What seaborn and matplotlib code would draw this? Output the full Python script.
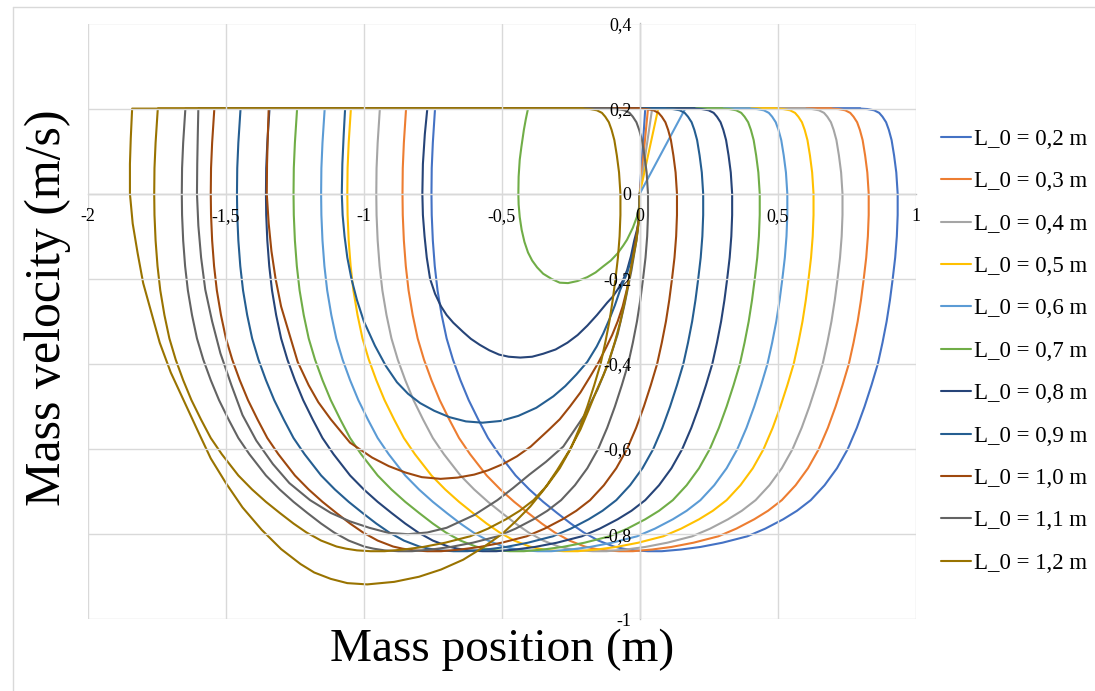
import matplotlib
matplotlib.use("Agg")
import matplotlib.pyplot as plt
import seaborn as sns
import pandas as pd
from matplotlib.ticker import FuncFormatter
from matplotlib.lines import Line2D

# ---------------- data ----------------
labels = ["L_0 = 0,2 m", "L_0 = 0,3 m", "L_0 = 0,4 m", "L_0 = 0,5 m",
          "L_0 = 0,6 m", "L_0 = 0,7 m", "L_0 = 0,8 m", "L_0 = 0,9 m",
          "L_0 = 1,0 m", "L_0 = 1,1 m", "L_0 = 1,2 m"]
colors = ["#4472C4", "#ED7D31", "#A5A5A5", "#FFC000", "#5B9BD5", "#70AD47",
          "#264478", "#255E91", "#9E480E", "#636363", "#997300"]

# initial rise from the origin (L_0 < 0.7 m)
start_y = [0.0, 0.2]
start_x_02 = [0.0, 0.020]
start_x_03 = [0.0, 0.030]
start_x_04 = [0.0, 0.045]
start_x_05 = [0.0, 0.067]
start_x_06 = [0.0, 0.165]

# initial loops from the origin (L_0 >= 0.7 m)
loop_x_07 = [0.000, -0.002, -0.010, -0.025, -0.046, -0.060, -0.080, -0.105, -0.133, -0.160,
             -0.190, -0.225, -0.260, -0.290, -0.320, -0.350, -0.372, -0.390, -0.405, -0.418,
             -0.428, -0.435, -0.439, -0.440, -0.439, -0.435, -0.429, -0.420, -0.413, -0.405]
loop_y_07 = [0.000, -0.030, -0.054, -0.080, -0.108, -0.122, -0.140, -0.157, -0.171, -0.185,
             -0.196, -0.205, -0.210, -0.209, -0.200, -0.188, -0.173, -0.157, -0.138, -0.113,
             -0.085, -0.055, -0.025, 0.000, 0.040, 0.080, 0.110, 0.150, 0.175, 0.200]
loop_x_08 = [0.000, 0.000, -0.008, -0.020, -0.032, -0.046, -0.062, -0.080, -0.098, -0.118,
             -0.155, -0.190, -0.225, -0.262, -0.305, -0.350, -0.390, -0.433, -0.475, -0.510,
             -0.545, -0.580, -0.612, -0.640, -0.676, -0.700, -0.720, -0.742, -0.760, -0.772,
             -0.780, -0.786, -0.788, -0.786, -0.779, -0.770]
loop_y_08 = [0.000, -0.045, -0.080, -0.110, -0.147, -0.180, -0.205, -0.225, -0.242, -0.256,
             -0.285, -0.310, -0.332, -0.350, -0.366, -0.376, -0.383, -0.385, -0.383, -0.378,
             -0.368, -0.355, -0.341, -0.325, -0.303, -0.285, -0.265, -0.235, -0.200, -0.150,
             -0.100, -0.050, 0.000, 0.070, 0.140, 0.200]
loop_x_09 = [0.000, 0.000, -0.010, -0.025, -0.045, -0.071, -0.090, -0.110, -0.132, -0.156,
             -0.190, -0.230, -0.270, -0.313, -0.375, -0.440, -0.505, -0.570, -0.630, -0.690,
             -0.745, -0.796, -0.840, -0.880, -0.920, -0.960, -1.000, -1.025, -1.045, -1.060,
             -1.070, -1.077, -1.080, -1.078, -1.073, -1.068]
loop_y_09 = [0.000, -0.045, -0.095, -0.140, -0.185, -0.226, -0.262, -0.295, -0.328, -0.359,
             -0.395, -0.425, -0.452, -0.476, -0.503, -0.522, -0.534, -0.538, -0.535, -0.525,
             -0.510, -0.492, -0.470, -0.443, -0.405, -0.357, -0.300, -0.250, -0.200, -0.150,
             -0.100, -0.050, 0.000, 0.070, 0.140, 0.200]
loop_x_10 = [0.000, 0.000, -0.010, -0.020, -0.033, -0.047, -0.062, -0.080, -0.100, -0.120,
             -0.150, -0.180, -0.215, -0.253, -0.290, -0.330, -0.395, -0.445, -0.495, -0.550,
             -0.600, -0.660, -0.722, -0.790, -0.850, -0.910, -0.970, -1.050, -1.120, -1.165,
             -1.200, -1.240, -1.270, -1.300, -1.320, -1.335, -1.345, -1.352, -1.351, -1.348,
             -1.345]
loop_y_10 = [0.000, -0.045, -0.090, -0.130, -0.180, -0.226, -0.265, -0.300, -0.332, -0.359,
             -0.397, -0.430, -0.467, -0.500, -0.530, -0.555, -0.594, -0.617, -0.635, -0.650,
             -0.660, -0.667, -0.670, -0.666, -0.655, -0.640, -0.620, -0.585, -0.530, -0.490,
             -0.450, -0.395, -0.330, -0.265, -0.200, -0.135, -0.070, 0.000, 0.070, 0.140,
             0.200]
loop_x_11 = [0.000, 0.000, -0.012, -0.030, -0.055, -0.080, -0.115, -0.153, -0.200, -0.277,
             -0.340, -0.400, -0.460, -0.516, -0.600, -0.700, -0.770, -0.840, -0.910, -0.980,
             -1.050, -1.120, -1.195, -1.270, -1.330, -1.390, -1.440, -1.480, -1.520, -1.550,
             -1.575, -1.590, -1.600, -1.605, -1.604, -1.602, -1.600]
loop_y_11 = [0.000, -0.045, -0.110, -0.180, -0.260, -0.330, -0.400, -0.460, -0.520, -0.594,
             -0.630, -0.660, -0.692, -0.720, -0.755, -0.785, -0.796, -0.800, -0.797, -0.785,
             -0.770, -0.750, -0.720, -0.680, -0.635, -0.580, -0.520, -0.450, -0.375, -0.300,
             -0.225, -0.150, -0.075, 0.000, 0.070, 0.140, 0.200]
loop_x_12 = [0.000, 0.000, -0.012, -0.030, -0.050, -0.070, -0.090, -0.110, -0.132, -0.155,
             -0.185, -0.215, -0.255, -0.300, -0.347, -0.397, -0.450, -0.500, -0.570, -0.640,
             -0.720, -0.800, -0.890, -0.988, -1.060, -1.120, -1.180, -1.230, -1.300, -1.370,
             -1.440, -1.500, -1.555, -1.600, -1.650, -1.700, -1.740, -1.770, -1.800, -1.820,
             -1.838, -1.848, -1.848, -1.845, -1.840]
loop_y_12 = [0.000, -0.045, -0.110, -0.170, -0.240, -0.300, -0.348, -0.390, -0.427, -0.460,
             -0.508, -0.554, -0.603, -0.650, -0.695, -0.735, -0.770, -0.800, -0.832, -0.860,
             -0.883, -0.900, -0.912, -0.918, -0.915, -0.905, -0.890, -0.870, -0.835, -0.790,
             -0.737, -0.680, -0.622, -0.560, -0.490, -0.420, -0.350, -0.280, -0.210, -0.140,
             -0.070, 0.000, 0.070, 0.130, 0.200]

# main cycle: velocity samples shared by all cycles, positions per L_0
cycle_y = [0.200, 0.199, 0.196, 0.190, 0.181, 0.168, 0.150, 0.126, 0.090, 0.050,
           0.000, -0.050, -0.100, -0.150, -0.200, -0.250, -0.300, -0.350, -0.400, -0.450,
           -0.500, -0.550, -0.600, -0.645, -0.685, -0.720, -0.745, -0.765, -0.787, -0.805,
           -0.820, -0.830, -0.836, -0.840, -0.840, -0.838, -0.834, -0.829, -0.815, -0.796,
           -0.775, -0.750, -0.724, -0.695, -0.662, -0.612, -0.574, -0.531, -0.485, -0.438,
           -0.390, -0.340, -0.285, -0.227, -0.170, -0.110, -0.050, 0.000, 0.060, 0.120,
           0.160, 0.200]
cycle_x_02 = [0.800, 0.825, 0.850, 0.868, 0.880, 0.893, 0.903, 0.913, 0.922, 0.930,
              0.935, 0.935, 0.932, 0.926, 0.917, 0.907, 0.895, 0.880, 0.863, 0.840,
              0.815, 0.787, 0.754, 0.715, 0.670, 0.620, 0.570, 0.520, 0.455, 0.390,
              0.300, 0.220, 0.150, 0.080, 0.030, -0.020, -0.060, -0.094, -0.150, -0.203,
              -0.250, -0.300, -0.350, -0.400, -0.450, -0.510, -0.550, -0.585, -0.620, -0.650,
              -0.677, -0.700, -0.718, -0.733, -0.743, -0.750, -0.754, -0.755, -0.754, -0.750,
              -0.746, -0.742]
cycle_x_03 = [0.695, 0.720, 0.745, 0.763, 0.775, 0.788, 0.798, 0.808, 0.817, 0.825,
              0.830, 0.830, 0.827, 0.821, 0.812, 0.802, 0.790, 0.775, 0.758, 0.735,
              0.710, 0.682, 0.649, 0.610, 0.565, 0.515, 0.465, 0.415, 0.350, 0.285,
              0.195, 0.115, 0.045, -0.025, -0.075, -0.125, -0.165, -0.199, -0.255, -0.308,
              -0.355, -0.405, -0.455, -0.505, -0.555, -0.615, -0.655, -0.690, -0.725, -0.755,
              -0.782, -0.805, -0.823, -0.838, -0.848, -0.855, -0.859, -0.860, -0.859, -0.855,
              -0.851, -0.847]
cycle_x_04 = [0.600, 0.625, 0.650, 0.668, 0.680, 0.693, 0.703, 0.713, 0.722, 0.730,
              0.735, 0.735, 0.732, 0.726, 0.717, 0.707, 0.695, 0.680, 0.663, 0.640,
              0.615, 0.587, 0.554, 0.515, 0.470, 0.420, 0.370, 0.320, 0.255, 0.190,
              0.100, 0.020, -0.050, -0.120, -0.170, -0.220, -0.260, -0.294, -0.350, -0.403,
              -0.450, -0.500, -0.550, -0.600, -0.650, -0.710, -0.750, -0.785, -0.820, -0.850,
              -0.877, -0.900, -0.918, -0.933, -0.943, -0.950, -0.954, -0.955, -0.954, -0.950,
              -0.946, -0.942]
cycle_x_05 = [0.495, 0.520, 0.545, 0.563, 0.575, 0.588, 0.598, 0.608, 0.617, 0.625,
              0.630, 0.630, 0.627, 0.621, 0.612, 0.602, 0.590, 0.575, 0.558, 0.535,
              0.510, 0.482, 0.449, 0.410, 0.365, 0.315, 0.265, 0.215, 0.150, 0.085,
              -0.005, -0.085, -0.155, -0.225, -0.275, -0.325, -0.365, -0.399, -0.455, -0.508,
              -0.555, -0.605, -0.655, -0.705, -0.755, -0.815, -0.855, -0.890, -0.925, -0.955,
              -0.982, -1.005, -1.023, -1.038, -1.048, -1.055, -1.059, -1.060, -1.059, -1.055,
              -1.051, -1.047]
cycle_x_06 = [0.400, 0.425, 0.450, 0.468, 0.480, 0.493, 0.503, 0.513, 0.522, 0.530,
              0.535, 0.535, 0.532, 0.526, 0.517, 0.507, 0.495, 0.480, 0.463, 0.440,
              0.415, 0.387, 0.354, 0.315, 0.270, 0.220, 0.170, 0.120, 0.055, -0.010,
              -0.100, -0.180, -0.250, -0.320, -0.370, -0.420, -0.460, -0.494, -0.550, -0.603,
              -0.650, -0.700, -0.750, -0.800, -0.850, -0.910, -0.950, -0.985, -1.020, -1.050,
              -1.077, -1.100, -1.118, -1.133, -1.143, -1.150, -1.154, -1.155, -1.154, -1.150,
              -1.146, -1.142]
cycle_x_07 = [0.300, 0.325, 0.350, 0.368, 0.380, 0.393, 0.403, 0.413, 0.422, 0.430,
              0.435, 0.435, 0.432, 0.426, 0.417, 0.407, 0.395, 0.380, 0.363, 0.340,
              0.315, 0.287, 0.254, 0.215, 0.170, 0.120, 0.070, 0.020, -0.045, -0.110,
              -0.200, -0.280, -0.350, -0.420, -0.470, -0.520, -0.560, -0.594, -0.650, -0.703,
              -0.750, -0.800, -0.850, -0.900, -0.950, -1.010, -1.050, -1.085, -1.120, -1.150,
              -1.177, -1.200, -1.218, -1.233, -1.243, -1.250, -1.254, -1.255, -1.254, -1.250,
              -1.246, -1.242]
cycle_x_08 = [0.200, 0.225, 0.250, 0.268, 0.280, 0.293, 0.303, 0.313, 0.322, 0.330,
              0.335, 0.335, 0.332, 0.326, 0.317, 0.307, 0.295, 0.280, 0.263, 0.240,
              0.215, 0.187, 0.154, 0.115, 0.070, 0.020, -0.030, -0.080, -0.145, -0.210,
              -0.300, -0.380, -0.450, -0.520, -0.570, -0.620, -0.660, -0.694, -0.750, -0.803,
              -0.850, -0.900, -0.950, -1.000, -1.050, -1.110, -1.150, -1.185, -1.220, -1.250,
              -1.277, -1.300, -1.318, -1.333, -1.343, -1.350, -1.354, -1.355, -1.354, -1.350,
              -1.346, -1.342]
cycle_x_09 = [0.095, 0.120, 0.145, 0.163, 0.175, 0.188, 0.198, 0.208, 0.217, 0.225,
              0.230, 0.230, 0.227, 0.221, 0.212, 0.202, 0.190, 0.175, 0.158, 0.135,
              0.110, 0.082, 0.049, 0.010, -0.035, -0.085, -0.135, -0.185, -0.250, -0.315,
              -0.405, -0.485, -0.555, -0.625, -0.675, -0.725, -0.765, -0.799, -0.855, -0.908,
              -0.955, -1.005, -1.055, -1.105, -1.155, -1.215, -1.255, -1.290, -1.325, -1.355,
              -1.382, -1.405, -1.423, -1.438, -1.448, -1.455, -1.459, -1.460, -1.459, -1.455,
              -1.451, -1.447]
cycle_x_10 = [0.000, 0.025, 0.050, 0.068, 0.080, 0.093, 0.103, 0.113, 0.122, 0.130,
              0.135, 0.135, 0.132, 0.126, 0.117, 0.107, 0.095, 0.080, 0.063, 0.040,
              0.015, -0.013, -0.046, -0.085, -0.130, -0.180, -0.230, -0.280, -0.345, -0.410,
              -0.500, -0.580, -0.650, -0.720, -0.770, -0.820, -0.860, -0.894, -0.950, -1.003,
              -1.050, -1.100, -1.150, -1.200, -1.250, -1.310, -1.350, -1.385, -1.420, -1.450,
              -1.477, -1.500, -1.518, -1.533, -1.543, -1.550, -1.554, -1.555, -1.554, -1.550,
              -1.546, -1.542]
cycle_x_11 = [-0.105, -0.080, -0.055, -0.037, -0.025, -0.012, -0.002, 0.008, 0.017, 0.025,
              0.030, 0.030, 0.027, 0.021, 0.012, 0.002, -0.010, -0.025, -0.042, -0.065,
              -0.090, -0.118, -0.151, -0.190, -0.235, -0.285, -0.335, -0.385, -0.450, -0.515,
              -0.605, -0.685, -0.755, -0.825, -0.875, -0.925, -0.965, -0.999, -1.055, -1.108,
              -1.155, -1.205, -1.255, -1.305, -1.355, -1.415, -1.455, -1.490, -1.525, -1.555,
              -1.582, -1.605, -1.623, -1.638, -1.648, -1.655, -1.659, -1.660, -1.659, -1.655,
              -1.651, -1.647]
cycle_x_12 = [-0.205, -0.180, -0.155, -0.137, -0.125, -0.112, -0.102, -0.092, -0.083, -0.075,
              -0.070, -0.070, -0.073, -0.079, -0.088, -0.098, -0.110, -0.125, -0.142, -0.165,
              -0.190, -0.218, -0.251, -0.290, -0.335, -0.385, -0.435, -0.485, -0.550, -0.615,
              -0.705, -0.785, -0.855, -0.925, -0.975, -1.025, -1.065, -1.099, -1.155, -1.208,
              -1.255, -1.305, -1.355, -1.405, -1.455, -1.515, -1.555, -1.590, -1.625, -1.655,
              -1.682, -1.705, -1.723, -1.738, -1.748, -1.755, -1.759, -1.760, -1.759, -1.755,
              -1.751, -1.747]

x_ticks = [-2, -1.5, -1, -0.5, 0, 0.5, 1]
y_ticks = [-1, -0.8, -0.6, -0.4, -0.2, 0, 0.2, 0.4]

# ---------------- assemble trajectories ----------------
first_x = [start_x_02, start_x_03, start_x_04, start_x_05, start_x_06,
           loop_x_07, loop_x_08, loop_x_09, loop_x_10, loop_x_11, loop_x_12]
first_y = [start_y] * 5 + [loop_y_07, loop_y_08, loop_y_09, loop_y_10, loop_y_11, loop_y_12]
cycles_x = [cycle_x_02, cycle_x_03, cycle_x_04, cycle_x_05, cycle_x_06, cycle_x_07,
            cycle_x_08, cycle_x_09, cycle_x_10, cycle_x_11, cycle_x_12]

frames = []
for lab, fx, fy, cx in zip(labels, first_x, first_y, cycles_x):
    xs = list(fx) + list(cx) + [cx[0]]
    ys = list(fy) + list(cycle_y) + [cycle_y[0]]
    frames.append(pd.DataFrame({"x": xs, "y": ys, "series": lab}))
df = pd.concat(frames, ignore_index=True)
df["series"] = pd.Categorical(df["series"], categories=labels, ordered=True)

# ---------------- figure ----------------
sns.set_theme(style="white")
plt.rcParams["font.family"] = ["Liberation Serif", "DejaVu Serif"]
plt.rcParams["axes.unicode_minus"] = False
plt.rcParams["text.color"] = "black"

W, H = 1095, 691
fig = plt.figure(figsize=(W / 100, H / 100), dpi=100)
fig.patch.set_facecolor("white")
ax = fig.add_axes([88 / W, 1 - 619.3 / H, (915.6 - 88) / W, (619.3 - 23.5) / H])

sns.lineplot(data=df, x="x", y="y", hue="series", hue_order=labels, palette=colors,
             sort=False, estimator=None, linewidth=1.5, ax=ax, legend=False, zorder=3)

ax.set_xlim(-2, 1)
ax.set_ylim(-1, 0.4)
ax.set_xticks(x_ticks)
ax.set_yticks(y_ticks)
fmt = FuncFormatter(lambda v, p: ("%g" % round(v, 2)).replace(".", ","))
ax.xaxis.set_major_formatter(fmt)
ax.yaxis.set_major_formatter(fmt)
ax.grid(True, color="#d9d9d9", linewidth=1.0)
ax.set_axisbelow(True)

for s in ["top", "right"]:
    ax.spines[s].set_visible(False)
ax.spines["left"].set_position(("data", 0))
ax.spines["bottom"].set_position(("data", 0))
for s in ["left", "bottom"]:
    ax.spines[s].set_color("#bfbfbf")
    ax.spines[s].set_linewidth(1.0)
    ax.spines[s].set_zorder(1)
ax.tick_params(axis="both", which="major", length=4, width=1, color="#bfbfbf",
               labelsize=13, labelcolor="black")
ax.tick_params(axis="x", pad=6)
ax.tick_params(axis="y", pad=2)
ax.xaxis.set_zorder(5)
ax.yaxis.set_zorder(5)
ax.set_xlabel("")
ax.set_ylabel("")

fig.text(502 / W, 1 - 650 / H, "Mass position (m)", ha="center", va="center",
         fontsize=34, color="black")
fig.text(48 / W, 1 - 308 / H, "Mass velocity (m/s)", ha="center", va="center",
         rotation=90, fontsize=36, color="black")

handles = [Line2D([0], [0], color=c, linewidth=1.5) for c in colors]
fig.legend(handles, labels, loc="upper left", bbox_to_anchor=(941 / W, 1 - 129 / H),
           frameon=False, fontsize=16.5, handlelength=1.3, handletextpad=0.12,
           labelspacing=0.93, borderpad=0, borderaxespad=0, labelcolor="black")

# chart-area border (only left and top edges are inside the picture)
fig.add_artist(Line2D([13 / W, 13 / W], [0, 1 - 7 / H], transform=fig.transFigure,
                      color="#d9d9d9", linewidth=1.0))
fig.add_artist(Line2D([13 / W, 1], [1 - 7 / H, 1 - 7 / H], transform=fig.transFigure,
                      color="#d9d9d9", linewidth=1.0))

fig.savefig("out.png", dpi=100)
